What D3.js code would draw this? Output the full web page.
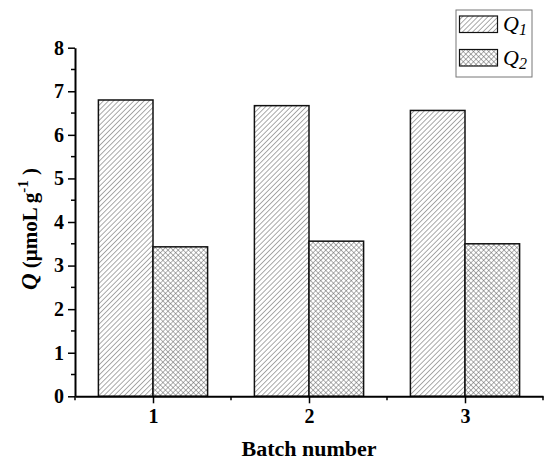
<!DOCTYPE html>
<html><head><meta charset="utf-8">
<script src="https://cdn.jsdelivr.net/npm/d3@7"></script>
<style>body{margin:0;background:#fff}</style>
</head><body>
<script>
const categories = [1, 2, 3];
const seriesNames = ["Q1", "Q2"];
const q1Values = [6.80, 6.67, 6.56];
const q2Values = [3.43, 3.56, 3.50];
const yTicks = [0, 1, 2, 3, 4, 5, 6, 7, 8];

const W = 550, H = 464;
const svg = d3.select("body").append("svg").attr("width", W).attr("height", H);
const defs = svg.append("defs");
const P = 3.6;
const p1 = defs.append("pattern").attr("id", "diag").attr("patternUnits", "userSpaceOnUse")
  .attr("width", P).attr("height", P).attr("patternTransform", "rotate(45)");
p1.append("line").attr("x1", 0).attr("y1", 0).attr("x2", 0).attr("y2", P).attr("stroke", "#555").attr("stroke-width", 1);
const p2 = defs.append("pattern").attr("id", "cross").attr("patternUnits", "userSpaceOnUse")
  .attr("width", P).attr("height", P).attr("patternTransform", "rotate(45)");
p2.append("line").attr("x1", 0).attr("y1", 0).attr("x2", 0).attr("y2", P).attr("stroke", "#555").attr("stroke-width", 0.9);
p2.append("line").attr("x1", 0).attr("y1", 0).attr("x2", P).attr("y2", 0).attr("stroke", "#555").attr("stroke-width", 0.9);

const x = d3.scaleLinear().domain([0.5, 3.5]).range([75, 543]);
const y = d3.scaleLinear().domain([0, 8]).range([396.3, 47.7]);
const bw = 0.35;
const fills = ["url(#diag)", "url(#cross)"];
const series = [q1Values, q2Values];

series.forEach((vals, si) => {
  svg.append("g").selectAll("rect").data(categories).join("rect")
    .attr("x", (d) => si === 0 ? x(d - bw) : x(d))
    .attr("width", x(bw) - x(0))
    .attr("y", (d, i) => y(vals[i]))
    .attr("height", (d, i) => y(0) - y(vals[i]))
    .attr("fill", "#fff").clone(true).attr("fill", fills[si])
    .attr("stroke", "#111").attr("stroke-width", 1.5);
});

const font = "'Liberation Serif','Times New Roman',serif";
// y axis
const yAxis = svg.append("g").attr("transform", `translate(${x(0.5)},0)`)
  .call(d3.axisLeft(y).tickValues(yTicks).tickFormat(d3.format("d")).tickSize(7).tickSizeOuter(0));
yAxis.append("g").selectAll("line").data(d3.range(0.5, 8, 1)).join("line")
  .attr("x1", 0).attr("x2", -4).attr("y1", d => y(d)).attr("y2", d => y(d)).attr("stroke", "#000").attr("stroke-width", 1.5);
// x axis
const xAxis = svg.append("g").attr("transform", `translate(0,${y(0)})`)
  .call(d3.axisBottom(x).tickValues(categories).tickFormat(d3.format("d")).tickSize(7).tickSizeOuter(0));
xAxis.append("g").selectAll("line").data([0.5, 1.5, 2.5, 3.5]).join("line")
  .attr("x1", d => x(d)).attr("x2", d => x(d)).attr("y1", 0).attr("y2", 4).attr("stroke", "#000").attr("stroke-width", 1.5);
[yAxis, xAxis].forEach(g => {
  g.attr("font-size", null).attr("font-family", null);
  g.select(".domain").attr("stroke-width", 2).attr("stroke", "#000");
  g.selectAll(".tick line").attr("stroke-width", 1.5);
  g.selectAll(".tick text").attr("font-family", font).attr("font-weight", "bold").attr("font-size", 20).attr("fill", "#000");
});
yAxis.selectAll(".tick text").attr("x", -11);
xAxis.selectAll(".tick text").attr("y", 13);

// axis titles
svg.append("text").attr("x", x(2)).attr("y", 456).attr("text-anchor", "middle")
  .attr("font-family", font).attr("font-weight", "bold").attr("font-size", 22).text("Batch number");
const yt = svg.append("text").attr("transform", "translate(37,229) rotate(-90)").attr("text-anchor", "middle")
  .attr("font-family", font).attr("font-weight", "bold").attr("font-size", 21);
yt.append("tspan").attr("font-style", "italic").attr("font-size", 23).text("Q");
yt.append("tspan").text(" (μmoL g");
yt.append("tspan").attr("dy", -9).attr("font-size", 15).text("-1");
yt.append("tspan").attr("dy", 9).text(" )");

// legend
const lg = svg.append("g");
lg.append("rect").attr("x", 456).attr("y", 10).attr("width", 76).attr("height", 67)
  .attr("fill", "#fff").attr("stroke", "#777").attr("stroke-width", 1);
seriesNames.forEach((n, i) => {
  const yy = 16 + i * 33.5;
  lg.append("rect").attr("x", 459.5).attr("y", yy).attr("width", 38).attr("height", 16.5).attr("fill", fills[i])
    .attr("stroke", "#111").attr("stroke-width", 1.2);
  const t = lg.append("text").attr("x", 503).attr("y", yy + 15).attr("font-family", font).attr("font-style", "italic").attr("font-size", 22);
  t.append("tspan").text(n[0]);
  t.append("tspan").attr("font-size", 16).attr("dy", 4).text(n.slice(1));
});
</script>
</body></html>
